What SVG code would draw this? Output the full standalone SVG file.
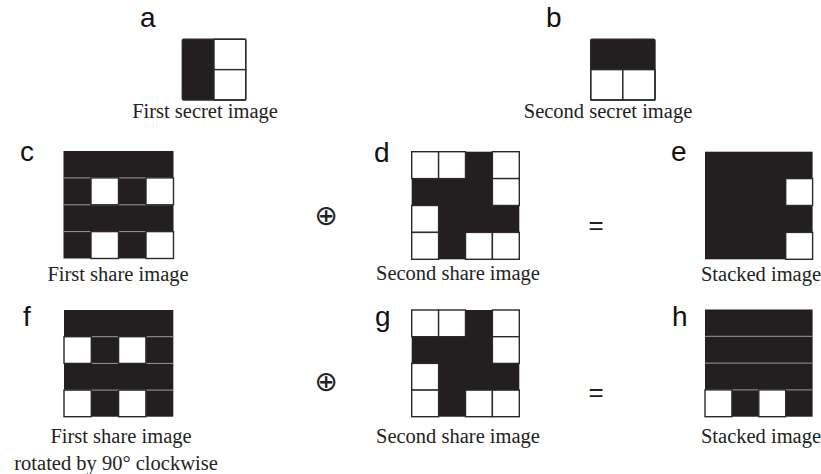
<svg xmlns="http://www.w3.org/2000/svg" width="821" height="474" viewBox="0 0 821 474">
<style>
.k{fill:#231f20}
.w{fill:#fff;stroke:#2a2a2a;stroke-width:1.4}
.ob{fill:none;stroke:#2a2a2a;stroke-width:1.4}
.sep{stroke:#9a9a9a;stroke-width:1}
.lbl{font-family:"Liberation Sans",Arial,sans-serif;font-size:28px;fill:#111}
.cap{font-family:"Liberation Serif","Times New Roman",serif;font-size:20.5px;fill:#222;text-anchor:middle}
.op{font-family:"DejaVu Sans",sans-serif;font-size:28px;fill:#222;text-anchor:middle}
.eq{font-family:"Liberation Sans",Arial,sans-serif;font-size:26px;fill:#222;text-anchor:middle}
</style>
<rect width="821" height="474" fill="#fff"/>

<g id="a">
<text class="lbl" x="140" y="27">a</text>
<rect class="k" x="182.3" y="39.3" width="31.7" height="60.7"/>
<rect class="w" x="214" y="39.3" width="31.7" height="30.35"/>
<rect class="w" x="214" y="69.65" width="31.7" height="30.35"/>
<rect class="ob" x="182.3" y="39.3" width="63.4" height="60.7" rx="1.5"/>
<text class="cap" x="205" y="118">First secret image</text>
</g>

<g id="b">
<text class="lbl" x="546" y="27">b</text>
<rect class="k" x="590.7" y="39.3" width="64.3" height="30.35"/>
<rect class="w" x="590.7" y="69.65" width="32.15" height="30.35"/>
<rect class="w" x="622.85" y="69.65" width="32.15" height="30.35"/>
<rect class="ob" x="590.7" y="39.3" width="64.3" height="60.7" rx="1.5"/>
<text class="cap" x="608" y="118">Second secret image</text>
</g>

<g id="c">
<text class="lbl" x="20" y="161">c</text>
<g transform="translate(63.5,151)">
<rect class="k" x="0" y="0" width="110" height="107.5"/>
<line class="sep" x1="0" y1="26.9" x2="110" y2="26.9"/>
<line class="sep" x1="0" y1="53.8" x2="110" y2="53.8"/>
<line class="sep" x1="0" y1="80.6" x2="110" y2="80.6"/>
<rect class="w" x="27.5" y="26.9" width="27.5" height="26.9"/>
<rect class="w" x="82.5" y="26.9" width="27.5" height="26.9"/>
<rect class="w" x="27.5" y="80.6" width="27.5" height="26.9"/>
<rect class="w" x="82.5" y="80.6" width="27.5" height="26.9"/>
</g>
<text class="cap" x="118" y="281">First share image</text>
</g>

<g id="d">
<text class="lbl" x="374" y="162">d</text>
<g transform="translate(411.7,151.7)">
<rect class="k" x="0" y="0" width="107.6" height="107.6"/>
<rect class="w" x="0" y="0" width="26.9" height="26.9"/>
<rect class="w" x="26.9" y="0" width="26.9" height="26.9"/>
<rect class="w" x="80.7" y="0" width="26.9" height="26.9"/>
<rect class="w" x="80.7" y="26.9" width="26.9" height="26.9"/>
<rect class="w" x="0" y="53.8" width="26.9" height="26.9"/>
<rect class="w" x="0" y="80.7" width="26.9" height="26.9"/>
<rect class="w" x="53.8" y="80.7" width="26.9" height="26.9"/>
<rect class="w" x="80.7" y="80.7" width="26.9" height="26.9"/>
</g>
<text class="cap" x="458" y="280">Second share image</text>
</g>

<g id="e">
<text class="lbl" x="671" y="161">e</text>
<g transform="translate(705,151.7)">
<rect class="k" x="0" y="0" width="107.6" height="107.6"/>
<rect class="w" x="80.7" y="26.9" width="26.9" height="26.9"/>
<rect class="w" x="80.7" y="80.7" width="26.9" height="26.9"/>
</g>
<text class="cap" x="761" y="281">Stacked image</text>
</g>

<g id="f">
<text class="lbl" x="23" y="326">f</text>
<g transform="translate(64,310)">
<rect class="k" x="0" y="0" width="109.3" height="106.7"/>
<line class="sep" x1="0" y1="26.7" x2="109.3" y2="26.7"/>
<line class="sep" x1="0" y1="53.4" x2="109.3" y2="53.4"/>
<line class="sep" x1="0" y1="80.1" x2="109.3" y2="80.1"/>
<rect class="w" x="0" y="26.7" width="27.3" height="26.7"/>
<rect class="w" x="54.6" y="26.7" width="27.3" height="26.7"/>
<rect class="w" x="0" y="80.1" width="27.3" height="26.6"/>
<rect class="w" x="54.6" y="80.1" width="27.3" height="26.6"/>
</g>
<text class="cap" x="121" y="443">First share image</text>
<text class="cap" x="116" y="470">rotated by 90° clockwise</text>
</g>

<g id="g">
<text class="lbl" x="375" y="326">g</text>
<g transform="translate(411.7,310)">
<rect class="k" x="0" y="0" width="107.6" height="106.7"/>
<rect class="w" x="0" y="0" width="26.9" height="26.7"/>
<rect class="w" x="26.9" y="0" width="26.9" height="26.7"/>
<rect class="w" x="80.7" y="0" width="26.9" height="26.7"/>
<rect class="w" x="80.7" y="26.7" width="26.9" height="26.7"/>
<rect class="w" x="0" y="53.4" width="26.9" height="26.7"/>
<rect class="w" x="0" y="80.1" width="26.9" height="26.6"/>
<rect class="w" x="53.8" y="80.1" width="26.9" height="26.6"/>
<rect class="w" x="80.7" y="80.1" width="26.9" height="26.6"/>
</g>
<text class="cap" x="458" y="443">Second share image</text>
</g>

<g id="h">
<text class="lbl" x="672" y="326">h</text>
<g transform="translate(705,309.5)">
<rect class="k" x="0" y="0" width="107.6" height="107.2"/>
<line class="sep" x1="0" y1="26.8" x2="107.6" y2="26.8"/>
<line class="sep" x1="0" y1="53.6" x2="107.6" y2="53.6"/>
<line class="sep" x1="0" y1="80.4" x2="107.6" y2="80.4"/>
<rect class="w" x="0" y="80.4" width="26.9" height="26.8"/>
<rect class="w" x="53.8" y="80.4" width="26.9" height="26.8"/>
</g>
<text class="cap" x="761" y="443">Stacked image</text>
</g>

<g id="operators">
<text class="op" x="326" y="225">⊕</text>
<text class="eq" x="596" y="234">=</text>
<text class="op" x="326" y="391">⊕</text>
<text class="eq" x="596" y="401">=</text>
</g>
</svg>
